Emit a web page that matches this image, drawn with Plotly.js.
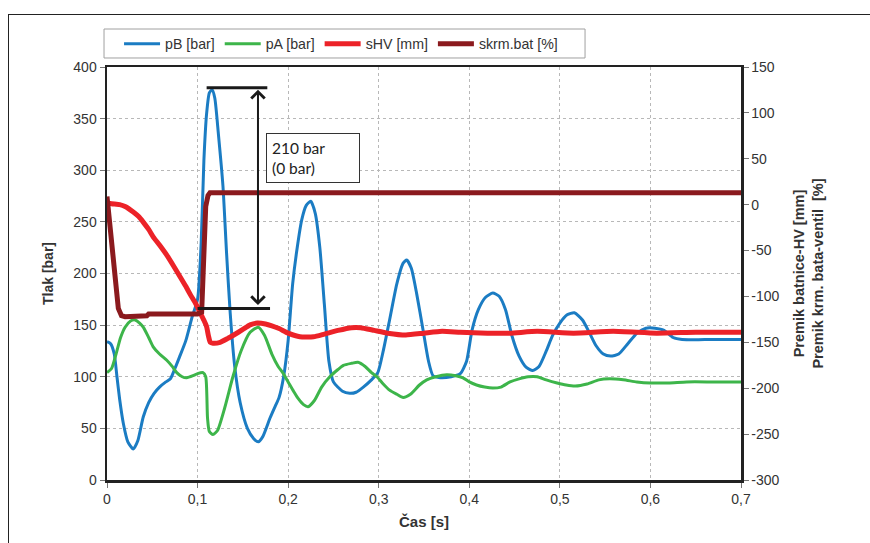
<!DOCTYPE html>
<html>
<head>
<meta charset="utf-8">
<script src="https://cdn.plot.ly/plotly-3.0.1.min.js"></script>
<style>
  html, body { margin: 0; padding: 0; background: #fff; }
  #wrap { position: relative; width: 870px; height: 543px; overflow: hidden; }
  #chart { position: absolute; left: 0; top: 0; width: 870px; height: 543px; }
  #frame { position: absolute; left: 8px; top: 14px; width: 900px; height: 600px;
           border: 1.5px solid #222; pointer-events: none; }
</style>
</head>
<body>
<div id="wrap">
  <div id="chart"></div>
  <div id="frame"></div>
</div>
<script>
// ---- data ----
const seriesNames = ["pB [bar]", "pA [bar]", "sHV [mm]", "skrm.bat [%]"];

const pB_t = [0, 0.004, 0.008, 0.011, 0.014, 0.018, 0.023, 0.029, 0.034, 0.040, 0.046, 0.052, 0.058, 0.065, 0.070, 0.075, 0.080, 0.087, 0.094, 0.100, 0.104, 0.107, 0.110, 0.113, 0.116, 0.119, 0.123, 0.128, 0.132, 0.136, 0.141, 0.147, 0.155, 0.162, 0.167, 0.172, 0.180, 0.186, 0.190, 0.195, 0.200, 0.205, 0.210, 0.215, 0.220, 0.225, 0.230, 0.235, 0.240, 0.245, 0.250, 0.260, 0.268, 0.275, 0.283, 0.292, 0.299, 0.305, 0.312, 0.320, 0.327, 0.331, 0.336, 0.342, 0.349, 0.355, 0.360, 0.368, 0.380, 0.390, 0.397, 0.403, 0.410, 0.418, 0.426, 0.433, 0.440, 0.447, 0.455, 0.463, 0.470, 0.477, 0.485, 0.492, 0.500, 0.508, 0.516, 0.525, 0.533, 0.540, 0.548, 0.556, 0.565, 0.575, 0.585, 0.595, 0.605, 0.615, 0.625, 0.635, 0.660, 0.700];
const pB_v = [134, 132, 122, 100, 78, 55, 37, 30, 38, 61, 75, 84, 90, 95, 98, 108, 119, 135, 158, 175, 230, 310, 355, 375, 378, 370, 335, 285, 220, 162, 110, 75, 50, 40, 37, 42, 60, 72, 80, 100, 135, 190, 225, 252, 266, 270, 258, 225, 170, 115, 95, 86, 84, 85, 90, 97, 104, 125, 155, 190, 210, 213, 205, 180, 145, 115, 101, 99, 100, 103, 115, 145, 165, 177, 181, 178, 165, 140, 120, 109, 106, 110, 125, 140, 152, 160, 162, 155, 142, 130, 122, 120, 122, 132, 142, 147, 147, 145, 138, 136, 136, 136];

const pA_t = [0, 0.005, 0.010, 0.015, 0.020, 0.026, 0.031, 0.036, 0.040, 0.046, 0.051, 0.058, 0.066, 0.072, 0.077, 0.083, 0.088, 0.095, 0.100, 0.106, 0.109, 0.111, 0.113, 0.117, 0.122, 0.130, 0.139, 0.148, 0.158, 0.167, 0.174, 0.182, 0.189, 0.194, 0.200, 0.206, 0.211, 0.217, 0.222, 0.229, 0.237, 0.246, 0.255, 0.261, 0.270, 0.277, 0.285, 0.292, 0.298, 0.305, 0.312, 0.320, 0.327, 0.335, 0.345, 0.353, 0.363, 0.375, 0.385, 0.393, 0.400, 0.408, 0.417, 0.426, 0.435, 0.445, 0.455, 0.465, 0.475, 0.485, 0.497, 0.507, 0.517, 0.530, 0.543, 0.555, 0.570, 0.585, 0.600, 0.620, 0.640, 0.670, 0.700];
const pA_v = [104, 108, 122, 138, 148, 154, 155, 152, 148, 138, 129, 122, 116, 110, 104, 100, 99, 101, 103, 104, 100, 60, 47, 44, 48, 70, 100, 125, 143, 148, 140, 122, 110, 104, 95, 86, 79, 73, 71, 77, 90, 100, 107, 111, 113, 114, 110, 104, 100, 93, 87, 83, 80, 83, 92, 97, 100, 102, 101, 99, 95, 92, 90, 89, 90, 95, 98, 100, 100, 97, 94, 92, 91, 93, 97, 98, 97, 95, 94, 94, 95, 95, 95];

const sHV_t = [0, 0.005, 0.014, 0.020, 0.029, 0.035, 0.040, 0.046, 0.051, 0.058, 0.066, 0.073, 0.081, 0.087, 0.092, 0.098, 0.103, 0.107, 0.110, 0.112, 0.114, 0.117, 0.125, 0.133, 0.140, 0.150, 0.158, 0.166, 0.175, 0.182, 0.190, 0.200, 0.213, 0.228, 0.240, 0.255, 0.270, 0.280, 0.295, 0.310, 0.330, 0.350, 0.370, 0.390, 0.420, 0.445, 0.475, 0.515, 0.559, 0.607, 0.650, 0.700];
const sHV_v = [2, 1, 0, -2, -8, -13, -19, -27, -35, -44, -55, -66, -79, -89, -98, -108, -118, -126, -133, -143, -150, -151, -150, -146, -142, -136, -131, -129, -130, -132, -135, -140, -144, -144, -141, -137, -134, -134, -137, -140, -142, -140, -138, -139, -140, -140, -138, -140, -138, -140, -139, -139];

const skrm_t = [0, 0.004, 0.008, 0.0125, 0.016, 0.020, 0.044, 0.046, 0.080, 0.100, 0.1045, 0.106, 0.109, 0.1115, 0.1137, 0.120, 0.700];
const skrm_v = [9, -30, -72, -113, -121, -122, -121, -119, -119, -119, -117, -82, -2, 10, 13, 13, 13];

const leftTicks = [0, 50, 100, 150, 200, 250, 300, 350, 400];
const rightTickVals = [-300, -250, -200, -150, -100, -50, 0, 50, 100, 150];
const rightTickText = ["-300", "-250", "-200", "-150", "-100", "-50", "0", "50", "100", "150"];

// annotation marker (dimension line)
const dimTopY = 380, dimTopX = [0.110, 0.177];
const dimBotY = 166, dimBotX = [0.100, 0.180];
const dimArrowX = 0.1667;
const dimLabel = "210 bar<br>(0 bar)";
const dimLabelX = 0.1756, dimLabelY = 312;

// ---- chart ----
const FONT = "Liberation Sans, Arial, sans-serif";
const colors = ["#1b7cc3", "#3db54a", "#ec2228", "#8b1a1e"];

const traces = [
  {x: pB_t, y: pB_v, name: seriesNames[0], mode: "lines", yaxis: "y",
   line: {color: colors[0], width: 3, shape: "spline", smoothing: 0.6}},
  {x: pA_t, y: pA_v, name: seriesNames[1], mode: "lines", yaxis: "y",
   line: {color: colors[1], width: 3, shape: "spline", smoothing: 0.6}},
  {x: sHV_t, y: sHV_v, name: seriesNames[2], mode: "lines", yaxis: "y2",
   line: {color: colors[2], width: 5, shape: "spline", smoothing: 0.5}},
  {x: skrm_t, y: skrm_v, name: seriesNames[3], mode: "lines", yaxis: "y2",
   line: {color: colors[3], width: 5}}
];

const layout = {
  width: 870, height: 543,
  margin: {l: 107, r: 129, t: 67, b: 63},
  paper_bgcolor: "rgba(0,0,0,0)",
  plot_bgcolor: "#fff",
  separators: ", ",
  font: {family: FONT, size: 14, color: "#333"},
  showlegend: true,
  legend: {orientation: "h", x: 0.019, y: 1.0557, xanchor: "left", yanchor: "middle",
           borderwidth: 0, bgcolor: "rgba(0,0,0,0)", itemwidth: 36,
           font: {family: FONT, size: 14.2, color: "#333"}},
  xaxis: {
    range: [0, 0.7], dtick: 0.1, tick0: 0,
    showgrid: true, gridcolor: "#b8b8b8", griddash: "dot", gridwidth: 1,
    showline: true, linecolor: "#222", linewidth: 2.5, mirror: true,
    ticks: "outside", ticklen: 5, tickcolor: "#777",
    zeroline: false,
    tickfont: {family: FONT, size: 14, color: "#333"},
    title: {text: "<b>Čas [s]</b>", standoff: 10,
            font: {family: "Liberation Sans Narrow, Liberation Sans, Arial, sans-serif", size: 15, color: "#333"}}
  },
  yaxis: {
    range: [0, 400], tickvals: leftTicks,
    showgrid: true, gridcolor: "#b8b8b8", griddash: "dot", gridwidth: 1,
    showline: true, linecolor: "#222", linewidth: 2.5,
    ticks: "outside", ticklen: 5, tickcolor: "#777",
    zeroline: false,
    tickfont: {family: FONT, size: 14, color: "#333"},
    title: {text: "<b>Tlak [bar]</b>", standoff: 17,
            font: {family: FONT, size: 14, color: "#333"}}
  },
  yaxis2: {
    range: [-300, 150], overlaying: "y", side: "right",
    tickvals: rightTickVals, ticktext: rightTickText,
    showgrid: false, zeroline: false,
    showline: true, linecolor: "#222", linewidth: 2.5,
    ticks: "outside", ticklen: 5, tickcolor: "#777",
    tickfont: {family: FONT, size: 14, color: "#333"},
    title: {text: "<b>Premik batnice-HV [mm]<br>Premik krm. bata-ventil  [%]</b>", standoff: 16,
            font: {family: FONT, size: 14.5, color: "#333"}}
  },
  shapes: [
    {type: "rect", xref: "paper", yref: "paper", x0: -0.0047, x1: 0.754, y0: 1.0218, y1: 1.092,
     line: {color: "#a0a0a0", width: 1}, fillcolor: "rgba(0,0,0,0)", layer: "below"},
    {type: "line", xref: "x", yref: "y", x0: dimTopX[0], x1: dimTopX[1], y0: dimTopY, y1: dimTopY,
     line: {color: "#1a1a1a", width: 3}},
    {type: "line", xref: "x", yref: "y", x0: dimBotX[0], x1: dimBotX[1], y0: dimBotY, y1: dimBotY,
     line: {color: "#1a1a1a", width: 3}}
  ],
  annotations: [
    {x: dimArrowX, y: dimTopY, ax: dimArrowX, ay: dimBotY, xref: "x", yref: "y", axref: "x", ayref: "y",
     text: "", showarrow: true, arrowside: "end+start", arrowhead: 4, startarrowhead: 4,
     arrowsize: 1.3, startarrowsize: 1.3, arrowwidth: 2, arrowcolor: "#1a1a1a", standoff: 2, startstandoff: 2},
    {x: dimLabelX, y: dimLabelY, xref: "x", yref: "y", xanchor: "left", yanchor: "middle",
     text: dimLabel, showarrow: false, align: "left", width: 82,
     bordercolor: "#333", borderwidth: 1, borderpad: 5, bgcolor: "#fff",
     font: {family: "Lato, Carlito, Open Sans, sans-serif", size: 15.5, color: "#222"}}
  ]
};

Plotly.newPlot("chart", traces, layout, {displayModeBar: false, staticPlot: true});
</script>
</body>
</html>
